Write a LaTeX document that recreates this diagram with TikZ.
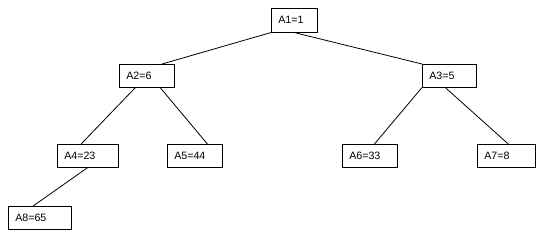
\documentclass[tikz,border=0pt]{standalone}
\usepackage{fontspec}
\setmainfont{Liberation Sans}

\tikzset{
	cell/.style={draw, fill=white, anchor=north west, inner xsep=5.25pt, inner ysep=0pt,
			minimum height=17.25pt, align=left, text width=#1, font=\fontsize{8}{9}\selectfont},
	link/.style={line width=0.6pt}
}

\begin{document}
\begin{tikzpicture}[x=0.75pt, y=-0.75pt]
			\useasboundingbox (0,0) rectangle (540,238);

			% --- root ---
			\node[cell=24pt, minimum height=18pt] (a1) at (271,8) {A1=1};

			% --- second level ---
			\node[cell=30.75pt] (a2) at (119,64) {A2=6};
			\node[cell=30pt] (a3) at (422,64) {A3=5};

			% --- third level ---
			\node[cell=35.25pt] (a4) at (57,144) {A4=23};
			\node[cell=30.75pt] (a5) at (167,144) {A5=44};
			\node[cell=30.75pt] (a6) at (342,144) {A6=33};
			\node[cell=33pt] (a7) at (477,144) {A7=8};

			% --- leaf ---
			\node[cell=36.75pt] (a8) at (8,206) {A8=65};

			% edges
			\draw[link] (a1.south west) -- ([xshift=11.5pt]a2.north);
			\draw[link] (a1.south) -- (a3.north west);
			\draw[link] ([xshift=-8.5pt]a2.south) -- ([xshift=-5pt]a4.north);
			\draw[link] ([xshift=10pt]a2.south) -- ([xshift=9.5pt]a5.north);
			\draw[link] (a3.south west) -- ([xshift=3.5pt]a6.north);
			\draw[link] ([xshift=-3pt]a3.south) -- ([xshift=1.5pt]a7.north);
			\draw[link] (a4.south) -- ([xshift=-5pt]a8.north);

		\end{tikzpicture}
\end{document}
